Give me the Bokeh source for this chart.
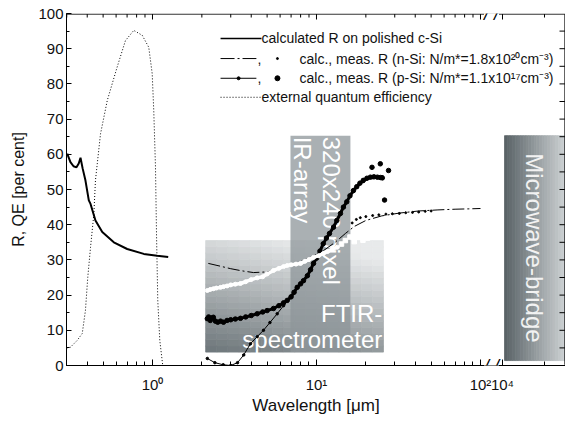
import numpy as np
from bokeh.plotting import figure
from bokeh.models import FixedTicker, Label, Range1d, SingleIntervalTicker, LogScale
from bokeh.core.properties import value
from bokeh.embed import file_html
from bokeh.resources import INLINE

FONT = "Liberation Sans"

# ---------------- data ----------------
rpol_wl = [0.302, 0.316, 0.330, 0.344, 0.355, 0.364, 0.375, 0.390, 0.409, 0.419, 0.449, 0.494,
           0.581, 0.701, 0.885, 1.068, 1.247]
rpol_val = [60.2, 57.8, 56.6, 56.3, 57.4, 59.0, 56.0, 52.6, 46.9, 45.9, 41.2, 37.9,
            35.0, 33.1, 31.7, 31.2, 30.8]

eqe_wl = [0.300, 0.316, 0.347, 0.373, 0.390, 0.403, 0.419, 0.439, 0.449, 0.482, 0.530, 0.609,
          0.684, 0.769, 0.866, 0.949, 0.996, 1.018, 1.043, 1.058, 1.077, 1.108, 1.155]
eqe_val = [5.0, 5.2, 7.1, 9.1, 15.6, 25.0, 33.6, 43.0, 52.6, 65.8, 75.3, 84.8,
           92.3, 95.2, 93.8, 90.4, 82.9, 72.4, 56.3, 37.5, 18.5, 7.1, 0.0]

nsi_calc_wl = [2.19, 2.6, 3.0, 3.5, 4.13, 5.0, 6.0, 7.0, 8.0, 9.5, 11.0, 13.0, 15.0, 17.0,
               20.0, 25.0, 32.0, 42.0, 55.0, 70.0, 85.0, 100.0]
nsi_calc_val = [29.0, 28.2, 27.5, 26.9, 26.4, 26.6, 27.4, 28.4, 29.5, 31.0, 32.6, 35.0, 37.5, 39.5,
                41.2, 42.5, 43.3, 43.9, 44.2, 44.4, 44.5, 44.6]
nsi_meas_wl = [2.16, 2.25, 2.35, 2.45, 2.6, 2.71, 2.85, 3.0, 3.2, 3.44, 3.7, 4.0, 4.35, 4.7, 5.0,
               5.47, 5.9, 6.3, 6.63, 7.0, 7.5, 8.0, 8.5, 9.0, 9.59, 10.3, 11.0, 11.7, 12.5, 13.4]
nsi_meas_val = [21.3, 21.6, 21.8, 22.0, 22.2, 22.4, 22.6, 22.9, 23.1, 23.3, 23.8, 24.4, 24.9, 25.2, 26.0,
                27.0, 27.6, 28.1, 28.4, 28.6, 28.8, 29.0, 29.6, 30.1, 30.7, 31.2, 31.8, 32.4, 33.0, 33.6]
nsi_scat_wl = [14.2, 15.0, 16.0, 17.0, 18.0, 19.2, 20.5]
nsi_scat_val = [34.5, 35.5, 36.5, 35.2, 36.8, 35.6, 36.2]
nsi_meas2_wl = [16.5, 17.5, 18.5, 20.0, 22.0, 24.0, 26.5, 29.0, 32.0, 35.0, 38.5, 42.0, 46.0, 50.0]
nsi_meas2_val = [40.5, 41.5, 42.0, 42.3, 42.6, 42.8, 43.0, 43.1, 43.2, 43.4, 43.5, 43.6, 43.8, 43.9]

psi_calc_wl = [2.16, 2.4, 2.7, 3.0, 3.3, 3.6, 3.96, 4.35, 4.75, 5.2, 5.76, 6.3, 6.94, 7.99, 9.19,
               10.1, 11.0, 12.7, 14.6, 16.8, 19.3, 22.0, 25.2]
psi_calc_val = [2.0, 0.8, 0.2, 0.0, 0.8, 3.0, 6.2, 8.2, 10.0, 12.2, 14.7, 17.0, 19.4, 23.2, 27.0,
                30.8, 34.6, 39.5, 45.0, 49.7, 52.3, 53.4, 53.6]
psi_meas_wl = [2.16, 2.2, 2.25, 2.3, 2.35, 2.42, 2.5, 2.6, 2.71, 2.85, 3.0, 3.2, 3.44, 3.7, 4.0,
               4.35, 4.7, 5.0, 5.47, 5.9, 6.3, 6.63, 7.0, 7.3, 7.63, 8.0, 8.33, 8.8, 9.2, 9.59,
               10.0, 10.5, 11.0, 11.5, 12.0, 12.7, 13.3, 14.0, 14.6, 15.3, 16.0, 16.8, 17.6, 18.4,
               19.3, 20.3, 21.3, 22.4, 23.5, 24.5, 25.2]
psi_meas_val = [13.3, 13.8, 12.8, 13.5, 13.7, 12.6, 12.3, 12.6, 12.3, 12.8, 13.0, 13.2, 13.4, 13.8, 14.2,
                14.7, 15.2, 15.6, 16.2, 17.0, 17.8, 18.5, 19.5, 20.8, 22.2, 23.2, 24.1, 25.5, 27.2, 29.0,
                30.5, 32.5, 34.6, 36.2, 37.5, 39.3, 41.2, 43.2, 45.0, 46.5, 48.2, 49.7, 50.8, 51.8,
                52.6, 53.2, 53.5, 53.6, 53.5, 53.4, 53.3]
psi_scat_wl = [21.8, 24.5, 27.5, 26.0]
psi_scat_val = [56.3, 57.3, 55.4, 47.0]

# instrument ranges (wavelength in um, R in %)
ftir_box = dict(left=2.11, right=25.6, bottom=3.8, top=35.5)
irarr_box = dict(left=6.94, right=16.1, bottom=3.8, top=65.3)
mw_box = dict(left=1.034e4, right=3.0e4, bottom=1.4, top=65.3)

x_major = [1, 10, 100]
x_minor = [0.3, 0.4, 0.5, 0.6, 0.7, 0.8, 0.9, 2, 3, 4, 5, 6, 7, 8, 9, 20, 30, 40, 50, 60, 70, 80, 90]
x_labels = ["10\u2070", "10\u00b9", "10\u00b2"]
mw_major = [1e4]
mw_minor = [2e4]
mw_labels = ["10\u2074"]
y_ticks_right = list(range(5, 100, 5))

legend_texts = [
    "calculated R on polished c-Si",
    "calc., meas. R (n-Si: N/m*=1.8x10\u00b2\u2070cm\u207b\u00b3)",
    "calc., meas. R (p-Si: N/m*=1.1x10\u00b9\u2077cm\u207b\u00b3)",
    "external quantum efficiency",
]

# ---------------- geometry of the broken log axis ----------------
W, H = 565, 421
BL, BT, BB = 66, 13, 56
FRAME_W = W - BL              # frame width in px
FRAME_H = H - BT - BB         # frame height in px
DEC_MAIN = 164.0              # px per decade, main segment
DEC_MW = 139.5                # px per decade, microwave segment
LOG0_MAIN = np.log10(0.299)
main_start = 10 ** LOG0_MAIN
main_end = 10 ** (LOG0_MAIN + FRAME_W / DEC_MAIN)
MW_OFFSET = 436               # px from frame left where 10^4 sits
mw_start = 10 ** (4 - MW_OFFSET / DEC_MW)
mw_end = 10 ** (4 + (FRAME_W - MW_OFFSET) / DEC_MW)
PX_Y = 100.0 / FRAME_H        # data units per px (y)


def mw_to_main(v):
    f = (np.log10(v) - np.log10(mw_start)) / (np.log10(mw_end) - np.log10(mw_start))
    return float(10 ** (np.log10(main_start) + f * (np.log10(main_end) - np.log10(main_start))))


ticks_all = x_major + [mw_to_main(v) for v in mw_major]
minor_all = x_minor + [mw_to_main(v) for v in mw_minor]
label_map = {t: s for t, s in zip(ticks_all, x_labels + mw_labels)}


def hexmix(c1, c2, t):
    t = min(max(t, 0.0), 1.0)
    a = [int(c1[i:i + 2], 16) for i in (1, 3, 5)]
    b = [int(c2[i:i + 2], 16) for i in (1, 3, 5)]
    return "#%02x%02x%02x" % tuple(round(a[k] + (b[k] - a[k]) * t) for k in range(3))


def style_axis(ax, major_in=6, minor_in=4):
    ax.axis_line_color = "black"
    ax.axis_line_width = 1
    ax.major_tick_in = major_in
    ax.major_tick_out = 0
    ax.minor_tick_in = minor_in
    ax.minor_tick_out = 0
    ax.major_tick_line_color = "black"
    ax.minor_tick_line_color = "black"
    ax.major_label_text_font = FONT
    ax.major_label_text_font_size = "15px"
    ax.major_label_text_color = "#111111"


def gradient_box(fig, box, ncol, nrow, colfun, **kw):
    xs = np.logspace(np.log10(box["left"]), np.log10(box["right"]), ncol + 1)
    ys = np.linspace(box["bottom"], box["top"], nrow + 1)
    L, R, B, T, C = [], [], [], [], []
    for i in range(ncol):
        for j in range(nrow):
            L.append(xs[i]); R.append(xs[i + 1]); B.append(ys[j]); T.append(ys[j + 1])
            C.append(colfun((i + 0.5) / ncol, (j + 0.5) / nrow))
    fig.quad(left=L, right=R, bottom=B, top=T, fill_color=C, line_color=C, line_width=0.8, **kw)


# ---------------- figure ----------------
p = figure(width=W, height=H, x_axis_type="log", x_range=Range1d(main_start, main_end),
           y_range=Range1d(0, 100), output_backend="svg", toolbar_location=None,
           min_border_left=BL, min_border_right=0, min_border_top=BT, min_border_bottom=BB)
p.extra_x_ranges = {"mw": Range1d(mw_start, mw_end)}
p.extra_x_scales = {"mw": LogScale()}
p.outline_line_color = None
p.xgrid.visible = False
p.ygrid.visible = False
p.background_fill_color = "white"
p.border_fill_color = "white"

p.xaxis.ticker = FixedTicker(ticks=ticks_all, minor_ticks=minor_all)
p.xaxis.major_label_overrides = label_map
p.xaxis.major_label_standoff = 10
p.xaxis.axis_label = "Wavelength [\u03bcm]"
p.xaxis.axis_label_text_font = FONT
p.xaxis.axis_label_text_font_size = "17px"
p.xaxis.axis_label_text_font_style = "normal"
p.xaxis.axis_label_text_color = "#111111"
p.xaxis.axis_label_standoff = 0
style_axis(p.xaxis[0])

p.yaxis.ticker = SingleIntervalTicker(interval=10, num_minor_ticks=2)
p.yaxis.major_label_standoff = 3
p.yaxis.axis_label = "R, QE [per cent]"
p.yaxis.axis_label_text_font = FONT
p.yaxis.axis_label_text_font_size = "16px"
p.yaxis.axis_label_text_font_style = "normal"
p.yaxis.axis_label_text_color = "#111111"
p.yaxis.axis_label_standoff = 8
style_axis(p.yaxis[0], major_in=5, minor_in=3)

# instrument boxes
gradient_box(p, ftir_box, 16, 18,
             lambda tx, ty: hexmix("#6c7579", "#e8eaeb", 0.85 * ty + 0.3 * tx))
p.quad(left=[irarr_box["left"]], right=[irarr_box["right"]], bottom=[irarr_box["bottom"]],
       top=[irarr_box["top"]], fill_color="#8d9599", fill_alpha=0.75, line_color=None)
gradient_box(p, mw_box, 24, 1, lambda tx, ty: hexmix("#586165", "#d4d8da", tx), x_range_name="mw")

# box labels
p.text(x=[ftir_box["right"] * 0.985, ftir_box["right"] * 0.985], y=[14.8, 7.5],
       text=["FTIR-", "spectrometer"], text_align="right", text_baseline="alphabetic",
       text_color="white", text_font=value(FONT), text_font_size=value("24px"))
p.text(x=[12.34, 8.22], y=[irarr_box["top"] - 0.3, irarr_box["top"] - 0.3],
       text=["320x240 pixel", "IR-array"], angle=-np.pi / 2, text_align="left",
       text_baseline="middle", text_color="white", text_font=value(FONT),
       text_font_size=value("24px"))
p.text(x=[17000], y=[mw_box["top"] - 5.0], text=["Microwave-bridge"], angle=-np.pi / 2,
       text_align="left", text_baseline="middle", text_color="#f2f2f2",
       text_font=value(FONT), text_font_size=value("24px"), x_range_name="mw")

# data
p.line(rpol_wl, rpol_val, line_color="black", line_width=2)
p.line(eqe_wl, eqe_val, line_color="black", line_width=1, line_dash="1 2")
p.line(psi_calc_wl, psi_calc_val, line_color="black", line_width=1)
p.scatter(psi_calc_wl, psi_calc_val, size=2.5, color="black")
p.line(psi_meas_wl, psi_meas_val, line_color="black", line_width=3)
p.scatter(psi_meas_wl, psi_meas_val, size=4.5, color="black")
p.scatter(psi_scat_wl, psi_scat_val, size=4.5, color="black")
p.line(nsi_calc_wl, nsi_calc_val, line_color="black", line_width=1, line_dash="12 3 2 3")
p.scatter(nsi_meas2_wl, nsi_meas2_val, size=2, color="black")
p.line(nsi_meas_wl, nsi_meas_val, line_color="white", line_width=3.5)
p.scatter(nsi_meas_wl, nsi_meas_val, size=4, color="white")
p.scatter(nsi_scat_wl, nsi_scat_val, size=4.5, marker="square", color="white")

# legend (hand made)
row_y = [92.9, 87.2, 81.6, 76.2]
p.line([2.60, 4.62], [row_y[0]] * 2, line_color="black", line_width=1.5)
p.line([2.60, 4.30], [row_y[1]] * 2, line_color="black", line_width=1, line_dash="14 3 2 3")
p.line([2.60, 4.30], [row_y[2]] * 2, line_color="black", line_width=1)
p.scatter([3.35], [row_y[2]], size=3, color="black")
p.line([2.60, 4.62], [row_y[3]] * 2, line_color="black", line_width=1, line_dash="1 2")
p.text(x=[4.37, 4.37], y=[row_y[1], row_y[2]], text=[",", ","], text_align="left",
       text_baseline="middle", text_font=value(FONT), text_font_size=value("14px"), text_color="#111111")
p.scatter([5.78], [row_y[1]], size=2, color="black")
p.scatter([5.78], [row_y[2]], size=5, color="black")
p.text(x=[4.62, 7.88, 7.88, 4.62], y=row_y, text=legend_texts, text_align="left",
       text_baseline="middle", text_font=value(FONT), text_font_size=value("14px"), text_color="#111111")

# mirror (top and right) axis lines with inward ticks, drawn from the same tick lists
y_top = 100 - 0.6 * PX_Y
x_right = main_end / 10 ** (0.6 / DEC_MAIN)
x_right_tick = main_end / 10 ** (6 / DEC_MAIN)
p.line([main_start, main_end], [y_top, y_top], line_color="black", line_width=1)
p.line([x_right, x_right], [0.2, 99.8], line_color="black", line_width=1)
for t in ticks_all:
    p.line([t, t], [y_top, 100 - 6 * PX_Y], line_color="black", line_width=1)
for t in minor_all:
    p.line([t, t], [y_top, 100 - 4 * PX_Y], line_color="black", line_width=1)
for yv in y_ticks_right:
    p.line([x_right, x_right_tick], [yv, yv], line_color="black", line_width=1)

# axis break marks
x_break = float(np.sqrt(100 * mw_to_main(1e4)))
for yy in (0, 100):
    p.add_layout(Label(x=x_break, y=yy, text="/ /", text_align="center", text_baseline="middle",
                       text_font=FONT, text_font_size="18px", text_font_style="italic",
                       text_color="black", background_fill_color="white"))

open("out.html", "w").write(file_html(p, INLINE))
